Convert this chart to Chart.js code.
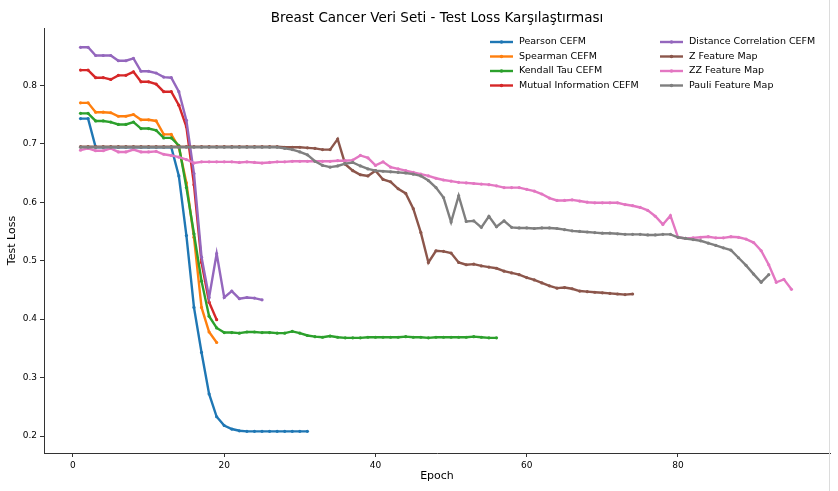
<!DOCTYPE html>
<html>
<head>
<meta charset="utf-8">
<script src="https://cdn.jsdelivr.net/npm/chart.js@4.4.1/dist/chart.umd.min.js"></script>
<style>
  html, body { margin: 0; padding: 0; background: #fff; }
  #wrap { width: 838px; height: 491px; position: relative; }
  #edge { position: absolute; left: 829px; top: 0; width: 1px; height: 491px; background: #dcdcdc; }
</style>
</head>
<body>
<div id="wrap"><canvas id="chart" width="838" height="491"></canvas><div id="edge"></div></div>
<script>
// test loss per epoch (epoch 1..n)
const pearson = [0.743, 0.743, 0.694, 0.694, 0.694, 0.694, 0.694, 0.694, 0.694, 0.694,
  0.694, 0.694, 0.694, 0.645, 0.543, 0.420, 0.343, 0.272, 0.233, 0.218,
  0.212, 0.209, 0.208, 0.208, 0.208, 0.208, 0.208, 0.208, 0.208, 0.208, 0.208];
const spearman = [0.770, 0.770, 0.754, 0.754, 0.753, 0.747, 0.747, 0.750, 0.741, 0.741,
  0.739, 0.716, 0.716, 0.694, 0.633, 0.540, 0.420, 0.378, 0.360];
const kendall = [0.752, 0.752, 0.739, 0.739, 0.737, 0.733, 0.733, 0.737, 0.726, 0.726,
  0.723, 0.710, 0.710, 0.697, 0.625, 0.546, 0.465, 0.405, 0.385, 0.377,
  0.377, 0.376, 0.378, 0.378, 0.377, 0.377, 0.376, 0.376, 0.379, 0.376,
  0.372, 0.370, 0.369, 0.371, 0.369, 0.368, 0.368, 0.368, 0.369, 0.369,
  0.369, 0.369, 0.369, 0.370, 0.369, 0.369, 0.368, 0.369, 0.369, 0.369,
  0.369, 0.369, 0.370, 0.369, 0.368, 0.368];
const mutualInfo = [0.826, 0.826, 0.813, 0.813, 0.810, 0.817, 0.817, 0.823, 0.806, 0.806,
  0.802, 0.789, 0.789, 0.766, 0.729, 0.630, 0.497, 0.429, 0.399];
const distCorr = [0.865, 0.865, 0.851, 0.851, 0.851, 0.842, 0.842, 0.846, 0.824, 0.824,
  0.821, 0.814, 0.813, 0.789, 0.740, 0.649, 0.506, 0.437, 0.512, 0.437,
  0.448, 0.435, 0.437, 0.436, 0.433];
const zMap = [0.695, 0.695, 0.695, 0.695, 0.695, 0.695, 0.695, 0.695, 0.695, 0.695,
  0.695, 0.695, 0.695, 0.695, 0.695, 0.695, 0.695, 0.695, 0.695, 0.695,
  0.695, 0.695, 0.695, 0.695, 0.695, 0.695, 0.695, 0.694, 0.694, 0.694,
  0.693, 0.692, 0.690, 0.690, 0.708, 0.665, 0.654, 0.647, 0.645, 0.654,
  0.639, 0.635, 0.623, 0.615, 0.589, 0.548, 0.497, 0.517, 0.516, 0.513,
  0.497, 0.493, 0.494, 0.491, 0.489, 0.487, 0.482, 0.479, 0.476, 0.471,
  0.467, 0.462, 0.457, 0.453, 0.454, 0.452, 0.448, 0.447, 0.446, 0.445,
  0.444, 0.443, 0.442, 0.443];
const zzMap = [0.689, 0.692, 0.688, 0.688, 0.692, 0.686, 0.686, 0.690, 0.686, 0.686,
  0.687, 0.682, 0.680, 0.677, 0.673, 0.667, 0.669, 0.669, 0.669, 0.669,
  0.669, 0.668, 0.669, 0.668, 0.667, 0.668, 0.669, 0.669, 0.670, 0.670,
  0.670, 0.670, 0.670, 0.670, 0.671, 0.671, 0.672, 0.680, 0.676, 0.663,
  0.669, 0.660, 0.657, 0.654, 0.651, 0.648, 0.645, 0.641, 0.638, 0.636,
  0.634, 0.633, 0.632, 0.631, 0.630, 0.628, 0.625, 0.625, 0.625, 0.622,
  0.619, 0.614, 0.607, 0.603, 0.603, 0.604, 0.602, 0.600, 0.599, 0.599,
  0.599, 0.599, 0.596, 0.594, 0.591, 0.586, 0.576, 0.562, 0.577, 0.540,
  0.538, 0.539, 0.540, 0.541, 0.539, 0.539, 0.541, 0.540, 0.537, 0.531,
  0.517, 0.493, 0.463, 0.468, 0.451];
const pauliMap = [0.694, 0.694, 0.694, 0.694, 0.694, 0.694, 0.694, 0.694, 0.694, 0.694,
  0.694, 0.694, 0.694, 0.694, 0.694, 0.694, 0.694, 0.694, 0.694, 0.694,
  0.694, 0.694, 0.694, 0.694, 0.694, 0.694, 0.694, 0.692, 0.690, 0.686,
  0.681, 0.670, 0.663, 0.660, 0.662, 0.666, 0.668, 0.662, 0.657, 0.654,
  0.653, 0.652, 0.651, 0.650, 0.648, 0.645, 0.637, 0.625, 0.608, 0.566,
  0.611, 0.567, 0.568, 0.557, 0.576, 0.558, 0.568, 0.557, 0.556, 0.556,
  0.555, 0.556, 0.556, 0.555, 0.553, 0.551, 0.550, 0.549, 0.548, 0.547,
  0.547, 0.546, 0.545, 0.545, 0.545, 0.544, 0.544, 0.545, 0.545, 0.540,
  0.538, 0.536, 0.534, 0.530, 0.526, 0.522, 0.518, 0.505, 0.492, 0.477,
  0.463, 0.476];

const seriesNames = ["Pearson CEFM", "Spearman CEFM", "Kendall Tau CEFM", "Mutual Information CEFM",
  "Distance Correlation CEFM", "Z Feature Map", "ZZ Feature Map", "Pauli Feature Map"];
const seriesValues = [pearson, spearman, kendall, mutualInfo, distCorr, zMap, zzMap, pauliMap];
const seriesColors = ["#1f77b4", "#ff7f0e", "#2ca02c", "#d62728", "#9467bd", "#8c564b", "#e377c2", "#7f7f7f"];

const xTicks = [0, 20, 40, 60, 80];
const yTicks = [0.2, 0.3, 0.4, 0.5, 0.6, 0.7, 0.8];

const FONT = "'DejaVu Sans', sans-serif";

// matplotlib style text: title, axis labels and the two-column legend
const textPlugin = {
    id: "mplText",
    afterDraw(chart) {
        const ctx = chart.ctx;
        const area = chart.chartArea;
        ctx.save();
        ctx.fillStyle = "#000";
        ctx.textAlign = "center";
        ctx.textBaseline = "middle";
        ctx.font = "13.5px " + FONT;
        ctx.fillText("Breast Cancer Veri Seti - Test Loss Karşılaştırması", (area.left + area.right) / 2, 18);
        ctx.font = "11px " + FONT;
        ctx.fillText("Epoch", (area.left + area.right) / 2, 476);
        ctx.translate(12, (area.top + area.bottom) / 2);
        ctx.rotate(-Math.PI / 2);
        ctx.fillText("Test Loss", 0, 0);
        ctx.restore();

        // legend
        ctx.save();
        ctx.font = "9.5px " + FONT;
        ctx.textAlign = "left";
        ctx.textBaseline = "middle";
        const cols = [490, 660];
        const rows = [42, 56.5, 71, 85.5];
        chart.data.datasets.forEach((ds, i) => {
            const x = cols[Math.floor(i / 4)];
            const y = rows[i % 4];
            ctx.strokeStyle = ds.borderColor;
            ctx.lineWidth = 2.4;
            ctx.beginPath();
            ctx.moveTo(x, y);
            ctx.lineTo(x + 23, y);
            ctx.stroke();
            ctx.fillStyle = ds.borderColor;
            ctx.beginPath();
            ctx.arc(x + 11.5, y, 1.8, 0, Math.PI * 2);
            ctx.fill();
            ctx.fillStyle = "#000";
            ctx.fillText(ds.label, x + 29, y);
        });
        ctx.restore();
    }
};

const datasets = seriesValues.map((vals, i) => ({
    label: seriesNames[i],
    data: vals.map((v, k) => ({ x: k + 1, y: v })),
    borderColor: seriesColors[i],
    backgroundColor: seriesColors[i],
    borderWidth: 2.4,
    pointRadius: 1.6,
    pointBorderWidth: 0,
    tension: 0,
    order: seriesValues.length - i,
}));

new Chart(document.getElementById("chart"), {
    type: "line",
    data: { datasets },
    options: {
        responsive: false,
        animation: false,
        devicePixelRatio: 1,
        layout: { padding: { top: 28, right: 8, left: 0, bottom: 0 } },
        plugins: {
            legend: { display: false },
            title: { display: false },
            tooltip: { enabled: false },
        },
        scales: {
            x: {
                type: "linear",
                min: -3.83,
                max: 100.1,
                afterBuildTicks: (axis) => { axis.ticks = xTicks.map(v => ({ value: v })); },
                afterFit: (axis) => { axis.height = 38; },
                grid: { drawOnChartArea: false, drawTicks: true, tickLength: 4, tickColor: "#333" },
                border: { display: true, color: "#333", width: 1 },
                ticks: { font: { family: FONT, size: 9 }, color: "#000", padding: 3, maxRotation: 0,
                    callback: (v) => String(v) },
            },
            y: {
                type: "linear",
                min: 0.171,
                max: 0.898,
                afterBuildTicks: (axis) => { axis.ticks = yTicks.map(v => ({ value: v })); },
                afterFit: (axis) => { axis.width = 44; },
                grid: { drawOnChartArea: false, drawTicks: true, tickLength: 4, tickColor: "#333" },
                border: { display: true, color: "#333", width: 1 },
                ticks: { font: { family: FONT, size: 9 }, color: "#000", padding: 3,
                    callback: (v) => v.toFixed(1) },
            },
        },
    },
    plugins: [textPlugin],
});
</script>
</body>
</html>
